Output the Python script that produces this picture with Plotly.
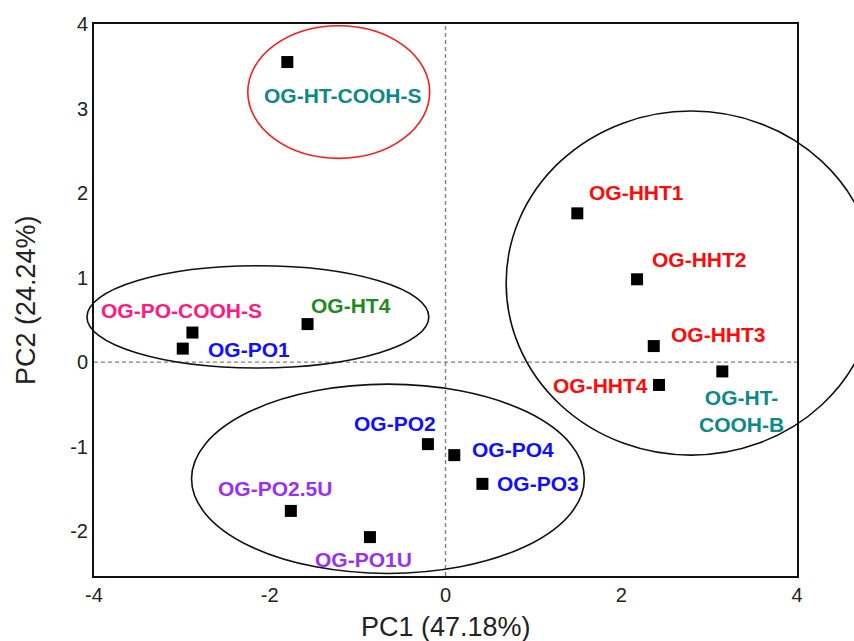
import plotly.graph_objects as go

# ---- data ----
samples = ["OG-HT-COOH-S", "OG-HHT1", "OG-HHT2", "OG-HHT3", "OG-HHT4", "OG-HT-COOH-B",
           "OG-PO-COOH-S", "OG-PO1", "OG-HT4", "OG-PO2", "OG-PO4", "OG-PO3",
           "OG-PO2.5U", "OG-PO1U"]
pc1 = [-1.80, 1.50, 2.18, 2.37, 2.43, 3.15, -2.88, -2.99, -1.57, -0.20, 0.10, 0.42, -1.76, -0.86]
pc2 = [3.55, 1.76, 0.98, 0.19, -0.27, -0.11, 0.35, 0.16, 0.45, -0.97, -1.10, -1.44, -1.76, -2.07]

label_text = ["OG-HT-COOH-S", "OG-HHT1", "OG-HHT2", "OG-HHT3", "OG-HHT4", "OG-HT-<br>COOH-B",
              "OG-PO-COOH-S", "OG-PO1", "OG-HT4", "OG-PO2", "OG-PO4", "OG-PO3",
              "OG-PO2.5U", "OG-PO1U"]
label_x = [-1.17, 2.17, 2.89, 3.11, 1.76, 3.37, -3.01, -2.24, -1.08, -0.58, 0.77, 1.05, -1.94, -0.93]
label_y = [3.16, 2.01, 1.21, 0.33, -0.28, -0.58, 0.615, 0.15, 0.67, -0.73, -1.03, -1.43, -1.50, -2.33]

TEAL, RED, PINK, GREEN, BLUE, PURPLE = "#0b8a86", "#ff0a0a", "#ff1a80", "#1f8a1f", "#1010ff", "#9932f0"
label_color = [TEAL, RED, RED, RED, RED, TEAL, PINK, BLUE, GREEN, BLUE, BLUE, BLUE, PURPLE, PURPLE]

# cluster ellipses (x0, x1, y0, y1) in PC units, with outline colour
ellipse_x0 = [-2.25, -4.08, -2.89, 0.69]
ellipse_x1 = [-0.18, -0.19, 1.58, 4.90]
ellipse_y0 = [2.41, -0.07, -2.50, -1.10]
ellipse_y1 = [3.98, 1.14, -0.26, 2.97]
ellipse_col = ["#ff1a1a", "#111111", "#111111", "#111111"]

x_range = [-4, 4]
y_range = [-2.53, 4]
x_ticks = [-4, -2, 0, 2, 4]
x_ticktext = ["-4", "-2", "0", "2", "4"]
y_ticks = [-2, -1, 0, 1, 2, 3, 4]
y_ticktext = ["-2", "-1", "0", "1", "2", "3", "4"]

FONT = "Liberation Sans, Arial"

fig = go.Figure()

fig.add_trace(go.Scatter(
    x=pc1, y=pc2, mode="markers",
    marker=dict(symbol="square", size=12, color="black", line=dict(width=0)),
    hovertext=samples, showlegend=False))

for t, lx, ly, c in zip(label_text, label_x, label_y, label_color):
    fig.add_annotation(x=lx, y=ly, xref="x", yref="y", text="<b>%s</b>" % t,
                       showarrow=False, font=dict(family=FONT, size=21, color=c),
                       xanchor="center", yanchor="middle")

def px(v):
    return (v - x_range[0]) / (x_range[1] - x_range[0])

def py(v):
    return (v - y_range[0]) / (y_range[1] - y_range[0])

# zero lines
fig.add_shape(type="line", xref="x", yref="y", x0=x_range[0], x1=x_range[1], y0=0, y1=0,
              line=dict(color="#808080", width=1.4, dash="4px,3px"), layer="below")
fig.add_shape(type="line", xref="x", yref="y", x0=0, x1=0, y0=y_range[0], y1=y_range[1],
              line=dict(color="#808080", width=1.4, dash="4px,3px"), layer="below")

for x0, x1, y0, y1, c in zip(ellipse_x0, ellipse_x1, ellipse_y0, ellipse_y1, ellipse_col):
    fig.add_shape(type="circle", xref="paper", yref="paper",
                  x0=px(x0), x1=px(x1), y0=py(y0), y1=py(y1),
                  line=dict(color=c, width=1.6))

fig.add_annotation(xref="paper", yref="paper", x=0.5, y=0, yshift=-51, text="PC1 (47.18%)",
                   showarrow=False, font=dict(family=FONT, size=27, color="#222"),
                   xanchor="center", yanchor="middle")
fig.add_annotation(xref="paper", yref="paper", x=0, y=0.5, xshift=-68, text="PC2 (24.24%)",
                   textangle=-90, showarrow=False,
                   font=dict(family=FONT, size=27, color="#222"),
                   xanchor="center", yanchor="middle")

axis_common = dict(showgrid=False, zeroline=False, showline=True, linecolor="#111",
                   linewidth=2, mirror=True, ticks="",
                   tickfont=dict(family=FONT, size=20, color="#222"))
fig.update_xaxes(range=x_range, tickvals=x_ticks, ticktext=x_ticktext, **axis_common)
fig.update_yaxes(range=y_range, tickvals=y_ticks, ticktext=y_ticktext, ticklabelstandoff=0, **axis_common)

fig.update_layout(width=854, height=641, margin=dict(l=94, r=57, t=24, b=65),
                  plot_bgcolor="white", paper_bgcolor="white")

fig.write_html("out.html")
